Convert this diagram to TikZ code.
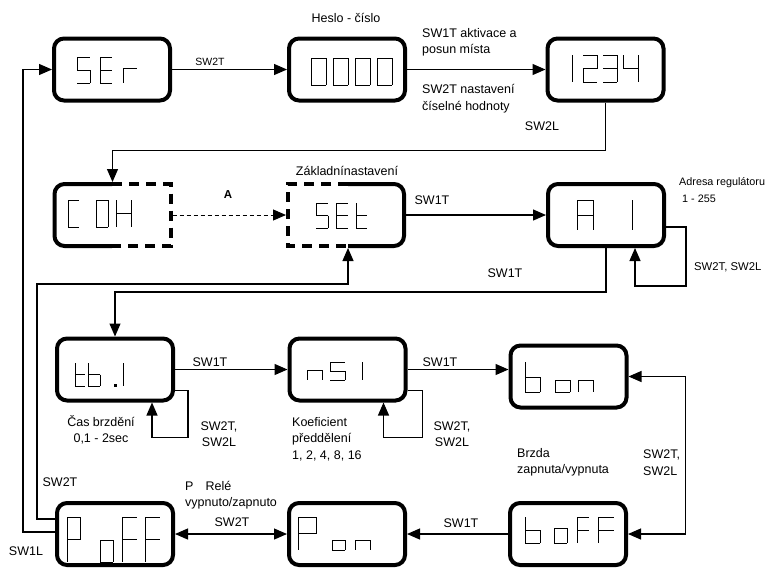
\documentclass[tikz,border=0pt]{standalone}
\usepackage{fontspec}
\setmainfont{Liberation Sans}
\usetikzlibrary{arrows.meta,calc}
\newcommand\dsegA{(0,0)--(\W,0)}
\newcommand\dsegB{(\W,0)--(\W,\H/2)}
\newcommand\dsegC{(\W,\H/2)--(\W,\H)}
\newcommand\dsegD{(0,\H)--(\W,\H)}
\newcommand\dsegE{(0,\H/2)--(0,\H)}
\newcommand\dsegF{(0,0)--(0,\H/2)}
\newcommand\dsegG{(0,\H/2)--(\W,\H/2)}
\newcommand\glyph[5]{%
  \begin{scope}[shift={(#1,#2)}]
    \def\W{#3}\def\H{#4}%
    \foreach \s in {#5}{%
      \expandafter\let\expandafter\curseg\csname dseg\s\endcsname
      \draw[segline] \curseg;}%
  \end{scope}}
\tikzset{
  dbox/.style={draw, line width=4pt, rounded corners=10pt, minimum width=116pt, minimum height=62pt, inner sep=0pt},
  hbox/.style={draw=none, minimum width=116pt, minimum height=62pt, inner sep=0pt, outer sep=2pt},
  conn/.style={line width=1.2pt, -{Triangle[length=13pt,width=11pt]}},
  biconn/.style={line width=1.2pt, {Triangle[length=13pt,width=11pt]}-{Triangle[length=13pt,width=11pt]}},
  segline/.style={line width=1pt, line cap=butt},
  solidhalf/.style={line width=4pt, rounded corners=10pt},
  dashhalf/.style={line width=4pt, dash pattern=on 10pt off 7pt},
  lbl/.style={font=\fontsize{12.5}{16.5}\selectfont, inner sep=0pt, align=center},
  lbll/.style={lbl, align=left, anchor=west},
}
\begin{document}
\begin{tikzpicture}[x=1pt,y=-1pt]
\useasboundingbox (0,0) rectangle (767,568);
\clip (0,0) rectangle (767,568);
% boxes
\node[dbox] (ser) at (112,69.5) {};
\node[dbox] (pw) at (347,69.5) {};
\node[dbox] (n1234) at (605.5,69.5) {};
\node[hbox] (coh) at (112.5,215) {};
\node[hbox] (set) at (346,215) {};
\node[dbox] (a1) at (606,215) {};
\node[dbox] (tb) at (115,369.5) {};
\node[dbox] (ns) at (347.5,369.5) {};
\node[dbox] (bon) at (568.5,376.5) {};
\node[dbox] (poff) at (115,534) {};
\node[dbox] (pon) at (347,534) {};
\node[dbox] (boff) at (568,534) {};
% half dashed boxes
\draw[solidhalf] (112,184) -- (54.5,184) -- (54.5,246) -- (112,246);
\draw[dashhalf] (112,184) -- (170.5,184) -- (170.5,246) -- (112,246);
\draw[solidhalf] (348,184) -- (404,184) -- (404,246) -- (348,246);
\draw[dashhalf] (348,184) -- (288,184) -- (288,246) -- (348,246);
% glyphs
\glyph{77}{57}{13}{26}{A,F,G,C,D}
\glyph{100}{57}{12}{26}{A,F,G,E,D}
\glyph{123}{68}{14}{15}{A,F,E}
\glyph{311}{58}{15}{27}{A,B,C,D,E,F}
\glyph{333}{58}{15}{27}{A,B,C,D,E,F}
\glyph{355}{58}{15}{27}{A,B,C,D,E,F}
\glyph{377}{58}{15}{27}{A,B,C,D,E,F}
\glyph{572}{55}{0}{27}{B,C}
\glyph{583}{55}{14}{27}{A,B,G,E,D}
\glyph{603}{55}{14}{27}{A,B,G,C,D}
\glyph{623}{55}{15}{27}{F,G,B,C}
\glyph{68}{200}{11}{27}{A,F,E,D}
\glyph{96}{200}{12}{27}{A,B,C,D,E,F}
\glyph{116}{200}{15}{27}{F,E,B,C,G}
\glyph{316}{203}{12}{25}{A,F,G,C,D}
\glyph{336}{203}{12}{25}{A,F,G,E,D}
\glyph{356}{203}{11}{25}{F,E,G,D}
\glyph{577}{200}{16}{30}{A,B,C,E,F,G}
\glyph{632}{200}{0}{30}{B,C}
\glyph{75}{363}{10}{23}{F,E,G,D}
\glyph{88}{363}{12}{23}{F,E,G,C,D}
\fill (114,384) rectangle (116.5,386.5);
\glyph{123}{363}{0}{23}{B,C}
\glyph{307}{370}{15}{10}{A,B,C,E,F}
\glyph{330}{362}{15}{18}{A,F,G,C,D}
\glyph{362}{362}{0}{18}{B,C}
\glyph{525}{362}{15}{30}{F,E,G,C,D}
\glyph{555}{380}{15}{12}{A,B,C,D,E,F}
\glyph{578}{380}{15}{12}{A,B,C,E,F}
\glyph{525}{517}{15}{26}{F,E,G,C,D}
\glyph{554}{528}{13}{15}{A,B,C,D,E,F}
\glyph{577}{517}{12}{26}{A,F,G,E}
\glyph{598}{517}{16}{26}{A,F,G,E}
\glyph{67}{517}{13}{45}{A,B,F,G,E}
\glyph{100}{540}{13}{22}{A,B,C,D,E,F}
\glyph{122}{517}{15}{45}{A,F,G,E}
\glyph{145}{517}{15}{45}{A,F,G,E}
\glyph{298}{517}{18}{33}{A,B,F,G,E}
\glyph{332}{540}{13}{10}{A,B,C,D,E,F}
\glyph{355}{540}{15}{10}{A,B,C,E,F}
% connectors
\draw[conn] (ser.east) -- (pw.west);
\draw[conn] (pw.east) -- (n1234.west);
\draw[conn] (n1234.south) -- ++(0,-48pt) -| (coh.north);
\draw[conn, line width=1pt, dash pattern=on 4pt off 3pt] (coh.east) -- (set.west);
\draw[conn] (set.east) -- (a1.west);
\draw[conn] ([yshift=-12pt]a1.east) -- ++(20pt,0) -- ++(0,-59pt) -| ([xshift=29pt]a1.south);
\draw[conn] (a1.south) -- ++(0,-44pt) -| (tb.north);
\draw[conn] (tb.east) -- (ns.west);
\draw[conn] ([yshift=-21pt]tb.east) -- ++(13pt,0) -- ++(0,-47pt) -| ([xshift=37pt]tb.south);
\draw[conn] (ns.east) -- (ns.east -| bon.west);
\draw[conn] ([yshift=-21pt]ns.east) -- ++(15pt,0) -- ++(0,-47pt) -| ([xshift=36pt]ns.south);
\draw[biconn] (bon.east) -- ++(57pt,0) |- (boff.east);
\draw[conn] (boff.west) -- (pon.east);
\draw[biconn] (poff.east) -- (pon.west);
\draw[conn] ([yshift=2pt]poff.west) -| ([xshift=-29pt]ser.west) -- (ser.west);
\draw[conn] ([yshift=15pt]poff.west) -- ++(-18pt,0) |- ([xshift=2pt,yshift=-36pt]set.south) -- ([xshift=2pt]set.south);
% labels
\node[lbl] (t1) at (346,18) {Heslo - číslo};
\node[lbl, font=\fontsize{10.5}{12}\selectfont] (t2) at (210,62) {SW2T};
\node[lbll] (t3) at (422,42.5) {SW1T aktivace a\\posun místa};
\node[lbll] (t4) at (422,98.5) {SW2T nastavení\\číselné hodnoty};
\node[lbl] (t5) at (542,126) {SW2L};
\node[lbl, font=\fontsize{11.5}{12}\selectfont\bfseries] (t6) at (228,195) {A};
\node[lbl] (t7) at (347,171) {Základnínastavení};
\node[lbl] (t8) at (432,200) {SW1T};
\node[lbll, font=\fontsize{10.8}{16.5}\selectfont] (t9) at (679,190) {Adresa regulátoru\\\hspace*{3pt}1 - 255};
\node[lbll, font=\fontsize{11.3}{16.5}\selectfont] (t10) at (694,267) {SW2T, SW2L};
\node[lbl] (t11) at (505,273) {SW1T};
\node[lbl] (t12) at (210,362) {SW1T};
\node[lbl] (t13) at (101,430) {Čas brzdění\\0,1 - 2sec};
\node[lbl] (t14) at (219,434) {SW2T,\\SW2L};
\node[lbll] (t15) at (292,439) {Koeficient\\předdělení\\1, 2, 4, 8, 16};
\node[lbl] (t16) at (440,362) {SW1T};
\node[lbl] (t17) at (452,434) {SW2T,\\SW2L};
\node[lbll] (t18) at (517,462.5) {Brzda\\zapnuta/vypnuta};
\node[lbll] (t19) at (643,462.5) {SW2T,\\SW2L};
\node[lbl] (t20) at (461,523) {SW1T};
\node[lbl] (t21) at (232,522) {SW2T};
\node[lbll] (t22) at (185,495) {P\hspace{12pt}Relé\\vypnuto/zapnuto};
\node[lbl] (t23) at (60,482) {SW2T};
\node[lbl] (t24) at (26,551) {SW1L};
\end{tikzpicture}
\end{document}
